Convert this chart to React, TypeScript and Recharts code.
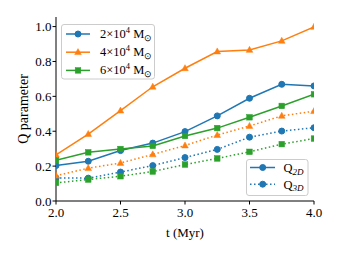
import { LineChart, Line, XAxis, YAxis } from 'recharts';

const times = [2.0, 2.25, 2.5, 2.75, 3.0, 3.25, 3.5, 3.75, 4.0];
const q2d_2e4 = [0.203, 0.228, 0.289, 0.332, 0.398, 0.488, 0.589, 0.669, 0.66];
const q2d_4e4 = [0.265, 0.384, 0.518, 0.655, 0.761, 0.857, 0.866, 0.918, 0.998];
const q2d_6e4 = [0.233, 0.279, 0.298, 0.316, 0.373, 0.418, 0.48, 0.545, 0.612];
const q3d_2e4 = [0.132, 0.131, 0.166, 0.203, 0.249, 0.296, 0.366, 0.401, 0.42];
const q3d_4e4 = [0.145, 0.188, 0.218, 0.267, 0.318, 0.378, 0.43, 0.488, 0.515];
const q3d_6e4 = [0.104, 0.123, 0.142, 0.169, 0.209, 0.244, 0.282, 0.326, 0.358];

const xTicks = [2.0, 2.5, 3.0, 3.5, 4.0];
const yTicks = [0, 0.2, 0.4, 0.6, 0.8, 1.0];

const BLUE = '#1f77b4';
const ORANGE = '#ff7f0e';
const GREEN = '#2ca02c';
const FONT = '"Liberation Serif", "Times New Roman", serif';
const DOTTED = '1.5 2.5';

const data = times.map((t, i) => ({
  t,
  a2: q2d_2e4[i],
  a4: q2d_4e4[i],
  a6: q2d_6e4[i],
  b2: q3d_2e4[i],
  b4: q3d_4e4[i],
  b6: q3d_6e4[i],
}));

type Shape = 'circle' | 'triangle' | 'square';

function marker(shape: Shape, color: string, cx: number, cy: number, key?: string) {
  if (shape === 'circle') return <circle key={key} cx={cx} cy={cy} r={3} fill={color} stroke={color} />;
  if (shape === 'square') return <rect key={key} x={cx - 2.8} y={cy - 2.8} width={5.6} height={5.6} fill={color} stroke={color} strokeWidth={0.5} />;
  return (
    <polygon
      key={key}
      points={`${cx},${cy - 3.6} ${cx - 3.3},${cy + 2.4} ${cx + 3.3},${cy + 2.4}`}
      fill={color}
      stroke={color}
      strokeWidth={0.5}
    />
  );
}

const series = [
  { key: 'a2', color: BLUE, shape: 'circle' as Shape, dash: undefined },
  { key: 'a4', color: ORANGE, shape: 'triangle' as Shape, dash: undefined },
  { key: 'a6', color: GREEN, shape: 'square' as Shape, dash: undefined },
  { key: 'b2', color: BLUE, shape: 'circle' as Shape, dash: DOTTED },
  { key: 'b4', color: ORANGE, shape: 'triangle' as Shape, dash: DOTTED },
  { key: 'b6', color: GREEN, shape: 'square' as Shape, dash: DOTTED },
];

const massLegend = [
  { label: '2×10', color: BLUE, shape: 'circle' as Shape },
  { label: '4×10', color: ORANGE, shape: 'triangle' as Shape },
  { label: '6×10', color: GREEN, shape: 'square' as Shape },
];

function Legends() {
  return (
    <svg width={339} height={255} style={{ position: 'absolute', left: 0, top: 0, pointerEvents: 'none' }}>
      {/* mass legend, top left */}
      <rect x={61.5} y={24.5} width={93} height={54.5} rx={2.5} fill="rgba(255,255,255,0.8)" stroke="#cccccc" />
      {massLegend.map((m, i) => {
        const y = 34 + i * 18.2;
        return (
          <g key={m.label}>
            <line x1={66} x2={90} y1={y} y2={y} stroke={m.color} strokeWidth={1.5} />
            {marker(m.shape, m.color, 78, y)}
            <text x={100} y={y + 4} fontFamily={FONT} fontSize={12.5} fill="#000">
              {m.label}
              <tspan fontSize={8.5} dy={-5}>4</tspan>
              <tspan dy={5}> M</tspan>
              <tspan fontSize={8.5} dy={2.5}>⊙</tspan>
            </text>
          </g>
        );
      })}
      {/* projection legend, bottom right */}
      <rect x={246.5} y={159.5} width={61.5} height={36} rx={2.5} fill="rgba(255,255,255,0.8)" stroke="#cccccc" />
      {['2D', '3D'].map((d, i) => {
        const y = 167.5 + i * 16.7;
        return (
          <g key={d}>
            <line x1={250} x2={275} y1={y} y2={y} stroke={BLUE} strokeWidth={1.5} strokeDasharray={i === 1 ? DOTTED : undefined} />
            {marker('circle', BLUE, 262.7, y)}
            <text x={283.5} y={y + 4.5} fontFamily={FONT} fontSize={12.5} fill="#000">
              Q
              <tspan fontSize={9} dy={2.5} fontStyle="italic">{d}</tspan>
            </text>
          </g>
        );
      })}
    </svg>
  );
}

export default function App() {
  const tickStyle = { fill: '#000', fontSize: 13, fontFamily: FONT };
  return (
    <div style={{ position: 'absolute', left: 0, top: 0, width: 339, height: 255, background: '#fff' }}>
      <LineChart width={339} height={255} data={data} margin={{ top: 17, right: 25, bottom: 0, left: 0 }}>
        <XAxis
          dataKey="t"
          type="number"
          domain={[2, 4]}
          ticks={xTicks}
          allowDataOverflow
          tickFormatter={(v: number) => v.toFixed(1)}
          height={54}
          tick={tickStyle}
          tickSize={3.5}
          tickMargin={3}
          axisLine={{ stroke: '#000' }}
          tickLine={{ stroke: '#000' }}
          label={{ value: 't (Myr)', position: 'insideBottom', offset: 18, fill: '#000', fontSize: 13, fontFamily: FONT }}
        />
        <XAxis
          xAxisId="top"
          orientation="top"
          dataKey="t"
          type="number"
          domain={[2, 4]}
          height={0}
          tick={false}
          tickLine={false}
          axisLine={{ stroke: '#000' }}
        />
        <YAxis
          type="number"
          domain={[0, 1.055]}
          ticks={yTicks}
          allowDataOverflow
          tickFormatter={(v: number) => v.toFixed(1)}
          width={56}
          tick={tickStyle}
          tickSize={3.5}
          tickMargin={1}
          axisLine={{ stroke: '#000' }}
          tickLine={{ stroke: '#000' }}
          label={({ viewBox }: any) => (
            <text
              x={viewBox.x + 23}
              y={viewBox.y + viewBox.height / 2}
              transform={`rotate(-90, ${viewBox.x + 23}, ${viewBox.y + viewBox.height / 2})`}
              textAnchor="middle"
              dominantBaseline="central"
              fontFamily={FONT}
              fontSize={14}
              fill="#000"
            >
              Q parameter
            </text>
          )}
        />
        <YAxis
          yAxisId="right"
          orientation="right"
          type="number"
          domain={[0, 1.055]}
          width={0}
          tick={false}
          tickLine={false}
          axisLine={{ stroke: '#000' }}
        />
        {series.map((s) => (
          <Line
            key={s.key}
            dataKey={s.key}
            type="linear"
            stroke={s.color}
            strokeWidth={1.5}
            strokeDasharray={s.dash}
            isAnimationActive={false}
            activeDot={false}
            dot={(p: any) => marker(s.shape, s.color, p.cx, p.cy, `${s.key}-${p.index}`)}
          />
        ))}
      </LineChart>
      <Legends />
    </div>
  );
}
